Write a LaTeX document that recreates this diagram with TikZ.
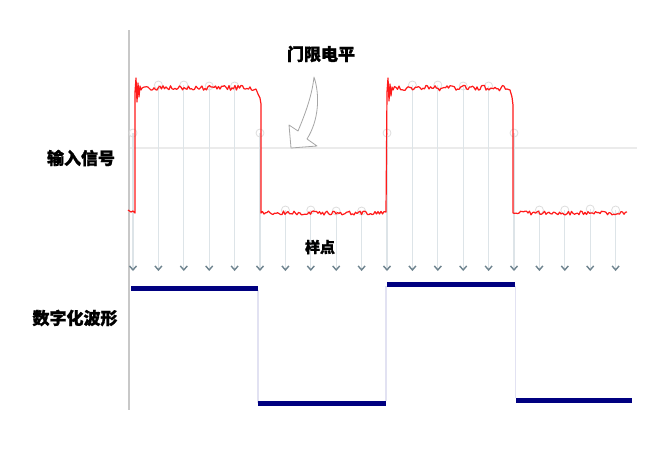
\documentclass[tikz,border=0pt]{standalone}
\usepackage{fontspec}
\newfontfamily\cjk{Noto Sans CJK SC}[BoldFeatures={FakeBold=1.2}]
\usetikzlibrary{arrows.meta}
\definecolor{axisgray}{HTML}{C8C8C8}
\definecolor{circgray}{HTML}{DDDDDD}
\definecolor{thrgray}{HTML}{EBEBEB}
\definecolor{samp}{HTML}{DDE4E8}
\definecolor{samphead}{HTML}{6E838E}
\definecolor{navybar}{HTML}{000080}
\definecolor{link}{HTML}{E2E2F2}
\definecolor{sig}{HTML}{FF1A1A}
\colorlet{sampheadcol}{samphead}
\tikzset{
  lbl/.style={font=\cjk\bfseries\fontsize{17}{17}\selectfont, inner sep=0pt},
  sampline/.style={draw=samp, line width=1.3pt, -{Straight Barb[length=4pt,width=7pt,line width=1.4pt,color=sampheadcol]}},
  sampcircle/.style={draw=circgray, line width=0.8pt, fill=none},
  bar/.style={draw=navybar, line width=5pt},
  linkline/.style={draw=link, line width=1.2pt},
  sigline/.style={draw=sig, line width=1.2pt, line join=round},
}
\begin{document}
\begin{tikzpicture}[x=1pt,y=-1pt]
\useasboundingbox (0,0) rectangle (658,456);
\fill[white] (0,0) rectangle (658,456);
% threshold line and axis
\coordinate (t0) at (130,148); \coordinate (t1) at (637,148);
\draw[thrgray, line width=2pt] (t0) -- (t1);
\coordinate (ax0) at (128.5,30); \coordinate (ax1) at (128.5,410);
\draw[axisgray, line width=2pt] (ax0) -- (ax1);
% sample arrows
\foreach \i/\ys in {0/133,1/85,2/85,3/86,4/86,5/133,6/210,7/210,8/211,9/211,10/133,11/85,12/85,13/86,14/86,15/133,16/210,17/210,18/209,19/210}{
  \pgfmathsetmacro{\xx}{133+25.4*\i}
  \coordinate (s\i) at (\xx,\ys);
  \coordinate (e\i) at (\xx,271);
  \draw[sampline] (s\i) -- (e\i);
  \draw[sampcircle] (s\i) circle (4);
}
% input signal
\pgfmathsetseed{11}
\coordinate (sg0) at (128,210);
\draw[sigline] (sg0) -- (131,212) -- (133,211) -- (135,213) -- (135,92) -- (136,78) -- (137,102) -- (138,83) -- (139,97) -- (140,86) -- (141,90)
  \foreach \x in {142,143.5,...,254} { -- (\x,{88+2.6*rand}) }
  -- (256,89) -- (258,94) -- (260,98) -- (261,104) -- (261,213)
  \foreach \x in {262.5,264,...,385} { -- (\x,{213+2*rand}) }
  -- (386,212) -- (387,92) -- (388,78) -- (389,101) -- (390,84) -- (391,96) -- (392,87) -- (393,90)
  \foreach \x in {394.5,396,...,508} { -- (\x,{88+2.8*rand}) }
  -- (510,90) -- (512,97) -- (513,105) -- (513,213)
  \foreach \x in {514.5,516,...,626} { -- (\x,{213+2*rand}) } -- (627,212);
% curved hollow arrow
\draw[fill=white, draw=gray!70, line width=0.8pt, line join=round]
  (314,77) .. controls (320,95) and (319,120) .. (307,139)
  -- (317,146) -- (291,148) -- (289,125) -- (298,131)
  .. controls (306,112) and (312,95) .. (314,77) -- cycle;
% digital waveform
\coordinate (b1a) at (131,288); \coordinate (b1b) at (258,288);
\coordinate (b2a) at (258,403); \coordinate (b2b) at (386,403);
\coordinate (b3a) at (387,284); \coordinate (b3b) at (515,284);
\coordinate (b4a) at (516,400); \coordinate (b4b) at (632,400);
\coordinate (l1a) at (258,290); \coordinate (l2a) at (386,401); \coordinate (l2b) at (386,286);
\coordinate (l3a) at (515.5,286); \coordinate (l3b) at (515.5,398);
\draw[linkline] (l1a) -- (b2a);
\draw[linkline] (l2a) -- (l2b);
\draw[linkline] (l3a) -- (l3b);
\draw[bar] (b1a) -- (b1b);
\draw[bar] (b2a) -- (b2b);
\draw[bar] (b3a) -- (b3b);
\draw[bar] (b4a) -- (b4b);
% labels
\node[lbl] (thr) at (321,54) {门限电平};
\node[lbl] (inp) at (81,158) {输入信号};
\node[lbl, font=\cjk\bfseries\fontsize{15}{15}\selectfont] (spt) at (320,247) {样点};
\node[lbl] (dig) at (75,318) {数字化波形};
\end{tikzpicture}
\end{document}
